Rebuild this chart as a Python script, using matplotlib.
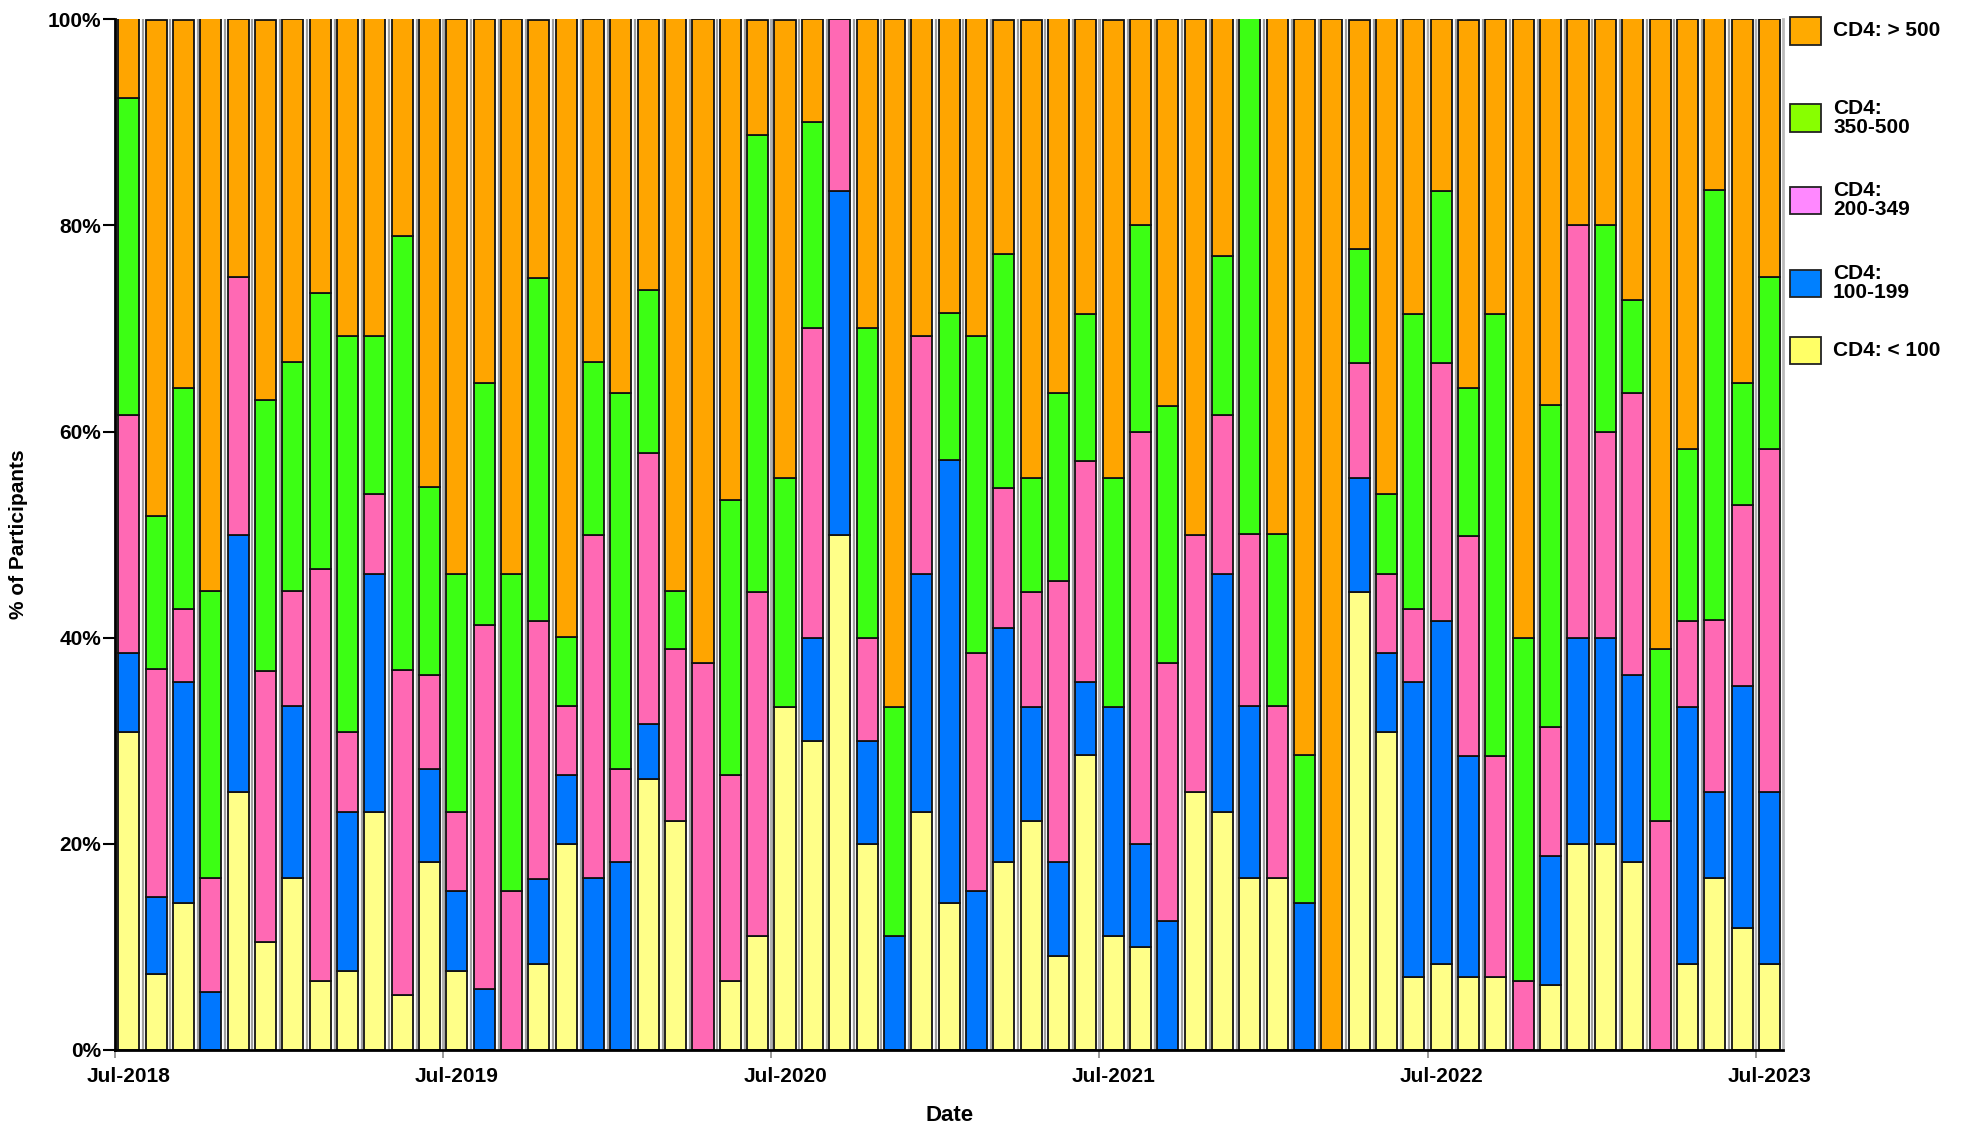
import matplotlib
matplotlib.use("Agg")
import matplotlib.pyplot as plt
from matplotlib.patches import Rectangle
import numpy as np

plt.rcParams['font.family'] = ['Liberation Sans', 'DejaVu Sans']

# ---- data (percent of participants per month, Jul-2018 .. Jul-2023) ----
months = [f"{m}-{y}" for y in range(2018, 2024) for m in
          ["Jan", "Feb", "Mar", "Apr", "May", "Jun", "Jul", "Aug", "Sep", "Oct", "Nov", "Dec"]][6:67]

cd4_lt100 = [30.8, 7.4, 14.3, 0, 25, 10.5, 16.7, 6.7, 7.7, 23.1, 5.3, 18.2,
             7.7, 0, 0, 8.3, 20, 0, 0, 26.3, 22.2, 0, 6.7, 11.1,
             33.3, 30, 50, 20, 0, 23.1, 14.3, 0, 18.2, 22.2, 9.1, 28.6,
             11.1, 10, 0, 25, 23.1, 16.7, 16.7, 0, 0, 44.4, 30.8, 7.1,
             8.3, 7.1, 7.1, 0, 6.3, 20, 20, 18.2, 0, 8.3, 16.7, 11.8,
             8.3]
cd4_100_199 = [7.7, 7.4, 21.4, 5.6, 25, 0, 16.7, 0, 15.4, 23.1, 0, 9.1,
               7.7, 5.9, 0, 8.3, 6.7, 16.7, 18.2, 5.3, 0, 0, 0, 0,
               0, 10, 33.3, 10, 11.1, 23.1, 42.9, 15.4, 22.7, 11.1, 9.1, 7.1,
               22.2, 10, 12.5, 0, 23.1, 16.7, 0, 14.3, 0, 11.1, 7.7, 28.6,
               33.3, 21.4, 0, 0, 12.5, 20, 20, 18.2, 0, 25, 8.3, 23.5,
               16.7]
cd4_200_349 = [23.1, 22.2, 7.1, 11.1, 25, 26.3, 11.1, 40.0, 7.7, 7.7, 31.6, 9.1,
               7.7, 35.3, 15.4, 25.0, 6.7, 33.3, 9.1, 26.3, 16.7, 37.5, 20, 33.3,
               0, 30, 16.7, 10, 0, 23.1, 0, 23.1, 13.6, 11.1, 27.3, 21.4,
               0, 40, 25, 25, 15.4, 16.7, 16.7, 0, 0, 11.1, 7.7, 7.1,
               25, 21.4, 21.4, 6.7, 12.5, 40, 20, 27.3, 22.2, 8.3, 16.7, 17.6,
               33.3]
cd4_350_500 = [30.8, 14.8, 21.4, 27.8, 0, 26.3, 22.2, 26.7, 38.5, 15.4, 42.1, 18.2,
               23.1, 23.5, 30.8, 33.3, 6.7, 16.7, 36.4, 15.8, 5.6, 0, 26.7, 44.4,
               22.2, 20, 0, 30, 22.2, 0, 14.3, 30.8, 22.7, 11.1, 18.2, 14.3,
               22.2, 20, 25, 0, 15.4, 50, 16.7, 14.3, 0, 11.1, 7.7, 28.6,
               16.7, 14.3, 42.9, 33.3, 31.3, 0, 20, 9.1, 16.7, 16.7, 41.7, 11.8,
               16.7]
cd4_gt500 = [7.7, 48.1, 35.7, 55.6, 25, 36.8, 33.3, 26.7, 30.8, 30.8, 21.1, 45.5,
             53.8, 35.3, 53.8, 25.0, 60, 33.3, 36.4, 26.3, 55.6, 62.5, 46.7, 11.1,
             44.4, 10, 0, 30, 66.7, 30.8, 28.6, 30.8, 22.7, 44.4, 36.4, 28.6,
             44.4, 20, 37.5, 50, 23.1, 0, 50, 71.4, 100, 22.2, 46.2, 28.6,
             16.7, 35.7, 28.6, 60, 37.5, 20, 20, 27.3, 61.1, 41.7, 16.7, 35.3,
             25]

series = [
    ("CD4: < 100", cd4_lt100, "#FFFF88", "#FFFF66"),
    ("CD4:\n100-199", cd4_100_199, "#0077FF", "#0080FF"),
    ("CD4:\n200-349", cd4_200_349, "#FF69B4", "#FF88FF"),
    ("CD4:\n350-500", cd4_350_500, "#3CFF14", "#88FF00"),
    ("CD4: > 500", cd4_gt500, "#FFA500", "#FFAA00"),
]

tick_labels = ["Jul-2018", "Jul-2019", "Jul-2020", "Jul-2021", "Jul-2022", "Jul-2023"]

# ---- figure ----
fig = plt.figure(figsize=(19.67, 11.29), dpi=100)
ax = fig.add_axes([0.0585, 0.070, 0.848, 0.913])

x = np.arange(len(months))
w = 0.77

# shadow lines left of each bar
ax.vlines(x - w / 2 - 0.09, 0, 100, color="#a0a0a0", lw=1.6, zorder=1)

bottom = np.zeros(len(months))
for label, vals, col, _ in series:
    v = np.array(vals, dtype=float)
    ax.bar(x, v, width=w, bottom=bottom, color=col, edgecolor="#111111",
           linewidth=1.3, zorder=3)
    bottom += v

jul_idx = [i for i, m in enumerate(months) if m.startswith("Jul")]
tick_pos = [i - 0.5 for i in jul_idx]
for tp in tick_pos:
    ax.axvline(tp, color="#b0b0b0", lw=1.6, zorder=2)

ax.set_xlim(-0.5, len(months) - 0.5)
ax.set_ylim(0, 100)
# tick marks at month starts, labels centred on the July bars
ax.set_xticks(tick_pos)
ax.set_xticklabels([""] * len(tick_pos))
ax.set_xticks(jul_idx, minor=True)
ax.set_xticklabels(tick_labels, minor=True, fontsize=15, fontweight="bold")
ax.tick_params(axis="x", which="minor", length=0, pad=12)
ax.set_yticks([0, 20, 40, 60, 80, 100])
ax.set_yticklabels([f"{v}%" for v in [0, 20, 40, 60, 80, 100]],
                   fontsize=15, fontweight="bold")
ax.tick_params(axis="y", direction="out", length=9, width=1.5, pad=1)
ax.tick_params(axis="x", which="major", direction="out", length=6, width=1.2,
               color="#888888")

ax.spines["top"].set_visible(False)
ax.spines["right"].set_color("#bbbbbb")
ax.spines["right"].set_linewidth(2)
ax.spines["left"].set_linewidth(2)
ax.spines["bottom"].set_linewidth(2)
ax.spines["left"].set_zorder(5)
ax.spines["bottom"].set_zorder(5)

ax.set_xlabel("Date", fontsize=16, fontweight="bold", labelpad=14)
ax.set_ylabel("% of Participants", fontsize=15, fontweight="bold", labelpad=14)

# ---- legend (manual, outside right) ----
W, H = 1967.0, 1129.0
leg_items = list(reversed(series))
centers = [31, 118, 200, 283, 351]
for (label, _, _, lcol), cy in zip(leg_items, centers):
    fig.patches.append(Rectangle((1790 / W, 1 - (cy + 13.5) / H), 31 / W, 27 / H,
                                 transform=fig.transFigure, facecolor=lcol,
                                 edgecolor="#222222", linewidth=1.3))
    fig.text(1833 / W, 1 - cy / H, label, fontsize=15, fontweight="bold",
             va="center", ha="left", linespacing=1.0)

fig.savefig("out.png", dpi=100)
